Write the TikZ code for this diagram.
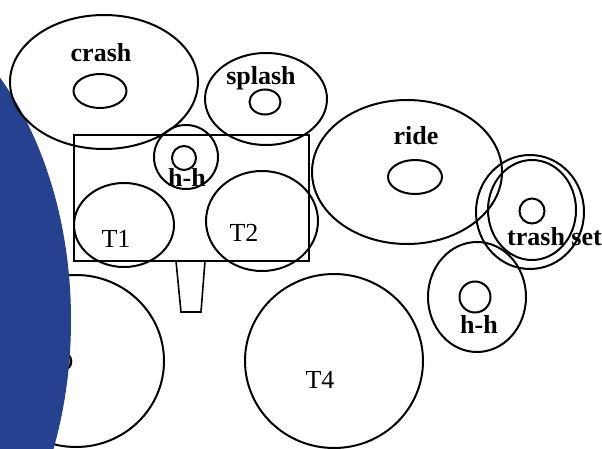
\documentclass[tikz,border=0pt]{standalone}
\usepackage{fontspec}
\setmainfont{Liberation Serif}
\usetikzlibrary{shapes.geometric}
\definecolor{bluefill}{RGB}{38,65,143}
\tikzset{
  part/.style={draw=black, line width=2pt, ellipse, inner sep=0pt},
  lab/.style={font=\fontsize{26}{30}\selectfont, anchor=base, inner sep=0pt},
  blab/.style={lab, font=\fontsize{26}{30}\selectfont\bfseries},
}
\newcommand{\drum}[5]{\node[part, minimum width=#4pt, minimum height=#5pt] (#1) at (#2,#3) {};}
\begin{document}
\begin{tikzpicture}[x=1pt,y=-1pt]
\useasboundingbox (0,0) rectangle (602,449);
\clip (0,0) rectangle (602,449);
% bass drum (mostly hidden)
\drum{bd}{76}{361}{176}{172}
\node[lab] (bdl) at (64,370) {D};
% blue shape
\fill[bluefill] (-150,320) ellipse [x radius=221pt, y radius=330pt];
% crash
\drum{crash}{104}{82}{188}{134}
\drum{crashin}{100}{91}{53}{34}
\node[blab] (crashl) at (101,62) {crash};
% splash
\drum{splash}{266}{99}{122}{92}
\drum{splashin}{265}{102}{31}{25}
\node[blab] (splashl) at (261,85) {splash};
% rack
\node[draw, line width=2pt, minimum width=235pt, minimum height=126pt, inner sep=0pt] (rack) at (191.5,198) {};
\coordinate (s1) at (176,261);
\coordinate (s4) at (205,261);
\draw[line width=1.6pt] (s1) -- (181,312) -- (201,312) -- (s4);
% small hi-hat
\drum{hh}{186}{157}{64}{64}
\drum{hhin}{184}{158}{24}{24}
\node[blab] (hhl) at (187,187) {h-h};
% toms
\drum{tone}{124}{225}{100}{84}
\node[lab] (tonel) at (116,247) {T1};
\drum{ttwo}{262}{221}{112}{100}
\node[lab] (ttwol) at (244,241) {T2};
\drum{tfour}{334}{361}{178}{174}
\node[lab] (tfourl) at (320,388) {T4};
% ride
\drum{ride}{407}{172}{190}{144}
\drum{ridein}{415}{177}{54}{34}
\node[blab] (ridel) at (416,145) {ride};
% trash set
\drum{trash}{530}{212}{108}{114}
\drum{trashmid}{532}{210}{88}{100}
\drum{trashin}{532}{211}{25}{25}
\node[blab, anchor=base west] (trashl) at (507,245) {trash set};
% right hi-hat
\drum{hhr}{477}{297}{98}{110}
\drum{hhrin}{475}{297}{31}{31}
\node[blab] (hhrl) at (479,333) {h-h};
\end{tikzpicture}
\end{document}
